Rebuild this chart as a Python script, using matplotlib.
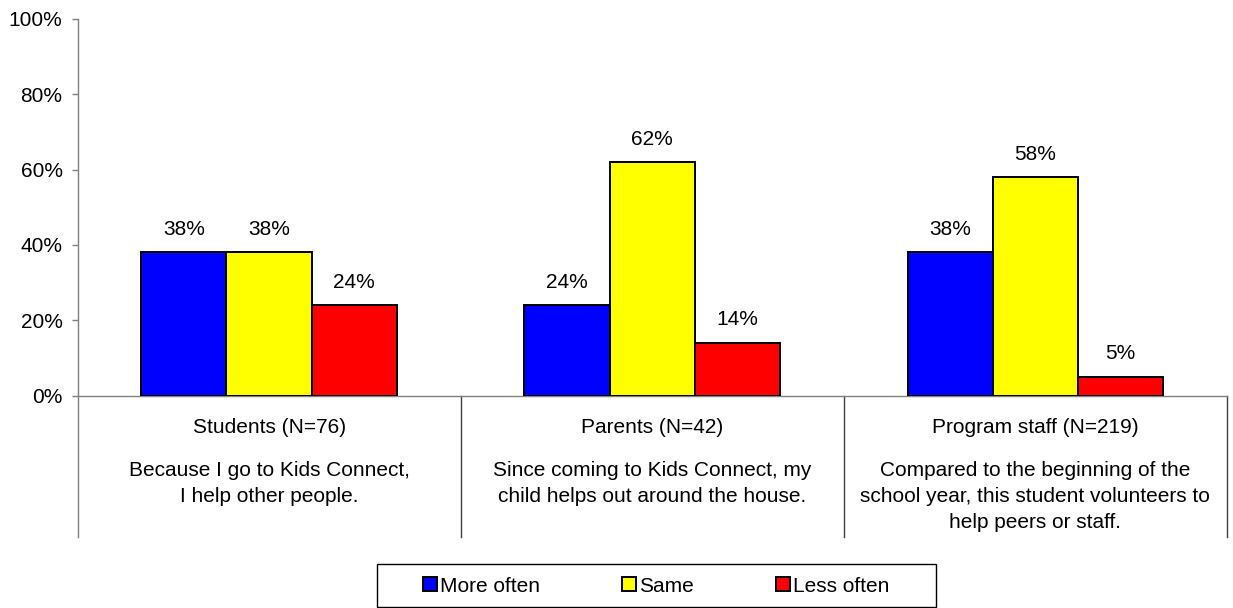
import numpy as np
import matplotlib

matplotlib.use("Agg")
import matplotlib.pyplot as plt
from matplotlib.patches import Rectangle
from matplotlib.transforms import blended_transform_factory

plt.rcParams["font.family"] = ["Liberation Sans", "DejaVu Sans"]
plt.rcParams["font.size"] = 15

# survey groups and their question wording
groups = ["Students (N=76)", "Parents (N=42)", "Program staff (N=219)"]
questions = [
    "Because I go to Kids Connect,\nI help other people.",
    "Since coming to Kids Connect, my\nchild helps out around the house.",
    "Compared to the beginning of the\nschool year, this student volunteers to\nhelp peers or staff.",
]
series = ["More often", "Same", "Less often"]
more_often = [38, 24, 38]
same = [38, 62, 58]
less_often = [24, 14, 5]
colors = ["#0000FF", "#FFFF00", "#FF0000"]

W, H = 1233, 608
fig = plt.figure(figsize=(W / 100, H / 100), dpi=100)
ax = fig.add_axes([77.5 / W, (H - 395.5) / H, (1227 - 77.5) / W, 376.5 / H])

x = np.arange(len(groups))
width = 0.2224
handles = []
for i, (name, vals, col) in enumerate(zip(series, [more_often, same, less_often], colors)):
    vals = np.array(vals) / 100
    bars = ax.bar(x + (i - 1) * width, vals, width, color=col,
                  edgecolor="black", linewidth=1.4, label=name, zorder=3)
    handles.append(bars)
    for xi, v in zip(x + (i - 1) * width, vals):
        ax.annotate(f"{v * 100:.0f}%", (xi, v), xytext=(0, 12.5),
                    textcoords="offset points", ha="center", va="baseline")

ax.set_xlim(-0.5, len(groups) - 0.5)
ax.set_ylim(0, 1)
ax.set_yticks(np.arange(0, 1.01, 0.2))
ax.set_yticklabels([f"{t}%" for t in range(0, 101, 20)])
ax.tick_params(axis="y", direction="out", length=4.3, width=1,
               color="#808080", pad=6.5)
ax.tick_params(axis="x", length=0, labelbottom=False)
for side in ("top", "right"):
    ax.spines[side].set_visible(False)
for side in ("left", "bottom"):
    ax.spines[side].set_color("#808080")
    ax.spines[side].set_linewidth(1)

# category dividers and labels below the axis
trans = blended_transform_factory(ax.transData, ax.transAxes)
sep_bottom = -0.376
for k, xs in enumerate(np.arange(-0.5, len(groups), 1.0)):
    ax.plot([xs, xs], [0, sep_bottom], transform=trans, clip_on=False,
            color="#808080" if k == 0 else "#404040", lw=1)
for xi, g, q in zip(x, groups, questions):
    ax.text(xi, -0.0996, g, transform=trans, ha="center", va="baseline")
    ax.text(xi, -0.1734, q, transform=trans, ha="center", va="top",
            multialignment="center", linespacing=1.49)

# legend in a fixed box below the chart
fig.patches.append(Rectangle((376.7 / W, (H - 607) / H), (936 - 376.7) / W, 43 / H,
                             transform=fig.transFigure, fill=False,
                             edgecolor="black", linewidth=1))
fig.legend(handles=handles, labels=series, loc="center",
           bbox_to_anchor=(656.4 / W, (H - 586) / H), ncol=3, frameon=False,
           handlelength=0.67, handleheight=0.67, handletextpad=0.15,
           columnspacing=3.94, borderpad=0, borderaxespad=0)

fig.savefig("out.png", dpi=100)
